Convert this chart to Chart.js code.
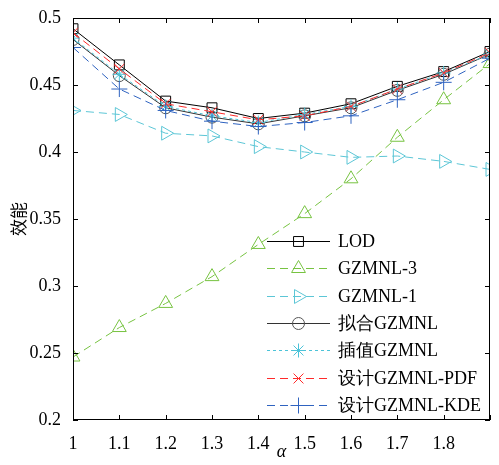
<!DOCTYPE html>
<html>
<head>
<meta charset="utf-8">
<script src="https://cdn.jsdelivr.net/npm/chart.js"></script>
<style>
  html,body{margin:0;padding:0;background:#fff;}
  #wrap{width:499px;height:465px;position:relative;}
</style>
</head>
<body>
<div id="wrap"><canvas id="c"></canvas></div>
<script>
/* ---- data ---- */
const alphas   = [1, 1.1, 1.2, 1.3, 1.4, 1.5, 1.6, 1.7, 1.8, 1.9];
const lod      = [0.492, 0.465, 0.438, 0.433, 0.425, 0.429, 0.436, 0.449, 0.460, 0.475];
const gz3      = [0.247, 0.269, 0.287, 0.307, 0.331, 0.354, 0.380, 0.411, 0.439, 0.466];
const gz1      = [0.431, 0.428, 0.414, 0.412, 0.404, 0.400, 0.396, 0.397, 0.393, 0.387];
const fitGz    = [0.484, 0.457, 0.433, 0.426, 0.421, 0.427, 0.433, 0.446, 0.458, 0.473];
const interpGz = [0.485, 0.458, 0.434, 0.427, 0.422, 0.428, 0.434, 0.447, 0.459, 0.473];
const pdfGz    = [0.489, 0.462, 0.436, 0.430, 0.424, 0.427, 0.434, 0.447, 0.459, 0.474];
const kdeGz    = [0.478, 0.447, 0.431, 0.423, 0.419, 0.422, 0.427, 0.439, 0.452, 0.470];
const xTicks   = [1, 1.1, 1.2, 1.3, 1.4, 1.5, 1.6, 1.7, 1.8, 1.9];
const yTicks   = [0.2, 0.25, 0.3, 0.35, 0.4, 0.45, 0.5];

const FONT = '"Liberation Serif","Times New Roman",serif';
const pts = ys => ys.map((y,i)=>({x:alphas[i], y}));

// order: later series drawn on top (like the original plot)
function ds(label, ys, color, dash, style, r, rot, ptColor, idx){
  return {label, data:pts(ys), borderColor:color, borderWidth:1, borderDash:dash,
    pointStyle:style, pointRadius:r, pointRotation:rot||0, pointBorderColor:ptColor||color,
    pointBackgroundColor:'rgba(0,0,0,0)', pointBorderWidth:1, tension:0, fill:false, order:-idx};
}

const datasets = [
  ds('LOD', lod, '#000000', [], 'rect', 7, 0, null, 0),
  ds('GZMNL-3', gz3, '#77c341', [8,5], 'triangle', 8, 0, null, 1),
  ds('GZMNL-1', gz1, '#5cc6d6', [8,5], 'triangle', 8, 90, null, 2),
  ds('拟合GZMNL', fitGz, '#333333', [], 'circle', 6, 0, '#555555', 3),
  ds('插值GZMNL', interpGz, '#4cc3d8', [3,3], 'star', 7, 0, null, 4),
  ds('设计GZMNL-PDF', pdfGz, '#ff2a2a', [8,5], 'crossRot', 7, 0, null, 5),
  ds('设计GZMNL-KDE', kdeGz, '#2f63c0', [8,5], 'cross', 8, 0, null, 6),
];

// box + inward ticks + legend inside the plot
const frame = {
  id:'frame',
  afterDraw(chart){
    const {ctx, chartArea:a, scales:{x, y}} = chart;
    ctx.save();
    ctx.strokeStyle = '#000'; ctx.lineWidth = 1; ctx.setLineDash([]);
    ctx.strokeRect(a.left+0.5, a.top+0.5, a.right-a.left-1, a.bottom-a.top-1);
    ctx.beginPath();
    xTicks.forEach(v=>{ const px = Math.round(x.getPixelForValue(v))+0.5;
      ctx.moveTo(px, a.bottom); ctx.lineTo(px, a.bottom-5);
      ctx.moveTo(px, a.top); ctx.lineTo(px, a.top+5); });
    yTicks.forEach(v=>{ const py = Math.round(y.getPixelForValue(v))+0.5;
      ctx.moveTo(a.left, py); ctx.lineTo(a.left+5, py);
      ctx.moveTo(a.right, py); ctx.lineTo(a.right-5, py); });
    ctx.stroke();

    // legend
    const lx0 = 267, lx1 = 330, tx = 338, y0 = 241, step = 27.3;
    ctx.font = '18px ' + FONT; ctx.textBaseline = 'middle'; ctx.textAlign = 'left';
    chart.data.datasets.forEach((d,i)=>{
      const yy = Math.round(y0 + i*step) + 0.5;
      ctx.strokeStyle = d.borderColor; ctx.lineWidth = 1; ctx.setLineDash(d.borderDash);
      ctx.beginPath(); ctx.moveTo(lx0, yy); ctx.lineTo(lx1, yy); ctx.stroke();
      ctx.setLineDash([]);
      ctx.strokeStyle = d.pointBorderColor; ctx.fillStyle = 'rgba(0,0,0,0)';
      Chart.helpers.drawPoint(ctx, {pointStyle:d.pointStyle, radius:d.pointRadius, rotation:d.pointRotation, borderWidth:1}, (lx0+lx1)/2, yy);
      ctx.fillStyle = '#000';
      ctx.fillText(d.label, tx, yy+1);
    });
    ctx.restore();
  }
};

new Chart(document.getElementById('c'), {
  type:'line',
  data:{datasets},
  options:{
    responsive:true, maintainAspectRatio:false, animation:false,
    layout:{padding:{top:18, right:2, left:0, bottom:0}},
    plugins:{legend:{display:false}, tooltip:{enabled:false}},
    scales:{
      x:{type:'linear', min:1, max:1.9,
        afterBuildTicks: s => { s.ticks = xTicks.map(v=>({value:v})); },
        afterFit: s => { s.height = 45; },
        grid:{display:false}, border:{display:false},
        ticks:{color:'#000', padding:5, font:{family:FONT, size:18}, maxRotation:0,
          callback: v => Math.abs(v-1.9)<1e-6 ? '' : String(+(+v).toFixed(1))},
        title:{display:true, text:'α', color:'#000', font:{family:FONT, size:18, style:'italic'}, padding:{top:0,bottom:2}}
      },
      y:{min:0.2, max:0.5,
        afterBuildTicks: s => { s.ticks = yTicks.map(v=>({value:v})); },
        afterFit: s => { s.width = 73; },
        grid:{display:false}, border:{display:false},
        ticks:{color:'#000', padding:4, font:{family:FONT, size:18},
          callback: v => String(+(+v).toFixed(2))},
        title:{display:true, text:'效能', color:'#000', font:{family:'"Noto Sans CJK SC",sans-serif', size:17}, padding:{top:8,bottom:0}}
      }
    }
  },
  plugins:[frame]
});
</script>
</body>
</html>
